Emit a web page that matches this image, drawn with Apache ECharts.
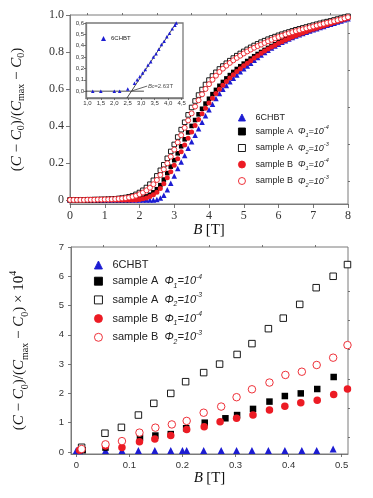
<!DOCTYPE html>
<html><head><meta charset="utf-8">
<script src="https://cdn.jsdelivr.net/npm/echarts@6/dist/echarts.min.js"></script>
<style>html,body{margin:0;padding:0;background:#fff}#c{width:373px;height:498px}</style>
</head><body><div id="c"></div>
<script>
// ---------- Top panel: normalised capacitance vs field (0..8 T) ----------
const fieldTop = [0.0,0.1,0.2,0.3,0.4,0.5,0.6,0.7,0.8,0.9,1.0,1.1,1.2,1.3,1.4,1.5,1.6,1.7,1.8,1.9,2.0,2.1,2.2,2.3,2.4,2.5,2.6,2.7,2.8,2.9,3.0,3.1,3.2,3.3,3.4,3.5,3.6,3.7,3.8,3.9,4.0,4.1,4.2,4.3,4.4,4.5,4.6,4.7,4.8,4.9,5.0,5.1,5.2,5.3,5.4,5.5,5.6,5.7,5.8,5.9,6.0,6.1,6.2,6.3,6.4,6.5,6.6,6.7,6.8,6.9,7.0,7.1,7.2,7.3,7.4,7.5,7.6,7.7,7.8,7.9,8.0];
const topCHBT = [0,0,0,0,0,0,0,0,0,0,0,0,0,0,0,0,0,0,0,0,0,0,0,0,0,0.003,0.01,0.025,0.055,0.09,0.13,0.17,0.205,0.24,0.28,0.315,0.35,0.385,0.42,0.455,0.487,0.518,0.548,0.575,0.598,0.619,0.639,0.658,0.676,0.693,0.709,0.724,0.739,0.755,0.77,0.784,0.797,0.809,0.821,0.832,0.842,0.852,0.861,0.87,0.878,0.886,0.893,0.9,0.907,0.914,0.92,0.926,0.932,0.938,0.944,0.95,0.956,0.962,0.968,0.974,0.98];
const topA1 = [0,0,0,0,0,0,0,0,0,0,0,0,0,0,0,0,0,0,0.002,0.004,0.007,0.012,0.019,0.028,0.041,0.058,0.08,0.11,0.145,0.18,0.215,0.252,0.29,0.328,0.365,0.4,0.432,0.463,0.493,0.521,0.547,0.572,0.595,0.617,0.638,0.657,0.675,0.692,0.708,0.723,0.737,0.751,0.764,0.777,0.789,0.8,0.811,0.822,0.832,0.842,0.852,0.861,0.87,0.878,0.886,0.893,0.9,0.907,0.914,0.92,0.926,0.932,0.938,0.944,0.95,0.956,0.962,0.968,0.974,0.98,0.986];
const topA2 = [0,0,0,0,0,0.001,0.001,0.002,0.002,0.003,0.003,0.004,0.005,0.006,0.008,0.01,0.013,0.017,0.022,0.03,0.04,0.052,0.067,0.085,0.106,0.13,0.16,0.19,0.225,0.262,0.3,0.34,0.38,0.42,0.46,0.5,0.535,0.567,0.597,0.624,0.648,0.67,0.69,0.708,0.724,0.739,0.753,0.767,0.78,0.792,0.803,0.814,0.825,0.835,0.844,0.853,0.861,0.869,0.876,0.883,0.89,0.896,0.902,0.908,0.914,0.92,0.925,0.93,0.935,0.94,0.945,0.95,0.955,0.96,0.964,0.968,0.973,0.978,0.983,0.988,0.993];
const topB1 = [0,0,0,0,0,0,0,0,0,0,0,0,0,0,0,0,0,0,0,0,0.003,0.006,0.011,0.018,0.028,0.042,0.062,0.088,0.12,0.152,0.187,0.223,0.26,0.297,0.333,0.368,0.402,0.435,0.466,0.496,0.524,0.55,0.575,0.598,0.62,0.64,0.659,0.677,0.694,0.71,0.725,0.739,0.753,0.767,0.78,0.793,0.805,0.816,0.827,0.837,0.847,0.856,0.865,0.873,0.881,0.889,0.896,0.903,0.91,0.917,0.923,0.929,0.935,0.941,0.947,0.953,0.959,0.965,0.971,0.977,0.983];
const topB2 = [0,0,0,0,0,0.001,0.001,0.001,0.002,0.002,0.003,0.003,0.004,0.005,0.006,0.008,0.01,0.013,0.017,0.023,0.031,0.04,0.052,0.066,0.085,0.108,0.135,0.165,0.198,0.234,0.272,0.311,0.35,0.39,0.43,0.468,0.505,0.539,0.571,0.6,0.626,0.65,0.672,0.692,0.71,0.726,0.741,0.755,0.768,0.78,0.792,0.803,0.813,0.823,0.832,0.84,0.849,0.858,0.866,0.874,0.881,0.888,0.895,0.901,0.907,0.913,0.918,0.923,0.928,0.933,0.938,0.943,0.948,0.953,0.958,0.962,0.967,0.972,0.977,0.982,0.988];

// ---------- Inset: 6CHBT near the threshold ----------
const insetField = [1.2,1.5,2.0,2.2,2.5,2.75,2.85,2.95,3.05,3.15,3.25,3.35,3.45,3.55,3.65,3.75,3.85,3.95,4.05,4.15,4.25,4.3];
const insetCHBT  = [0,0,0,0,0.02,0.07,0.1,0.13,0.16,0.19,0.23,0.26,0.3,0.33,0.37,0.41,0.44,0.48,0.51,0.55,0.58,0.6];
const fitLine  = [[2.47,-0.06],[4.3,0.6]];
const baseLine = [[0.95,0],[3.1,0]];
const Bc = 2.63;

// ---------- Bottom panel: low field (x 1e4) ----------
const botCHBTx = [0.0,0.006,0.055,0.086,0.117,0.148,0.178,0.2,0.208,0.24,0.273,0.302,0.331,0.362,0.393,0.425,0.453,0.484];
const botCHBTy = [0.05,0.04,0.05,0.05,0.05,0.05,0.05,0.05,0.05,0.05,0.05,0.05,0.05,0.05,0.05,0.05,0.05,0.1];
const botA1x = [0.012,0.055,0.12,0.149,0.178,0.207,0.242,0.281,0.303,0.333,0.364,0.393,0.423,0.454,0.485];
const botA1y = [0.06,0.15,0.49,0.56,0.61,0.81,1.0,1.15,1.26,1.47,1.72,1.91,2.0,2.15,2.56];
const botA2x = [0.01,0.054,0.085,0.117,0.146,0.178,0.206,0.24,0.27,0.303,0.331,0.362,0.39,0.421,0.452,0.484,0.511];
const botA2y = [0.16,0.64,0.84,1.26,1.66,2.0,2.4,2.71,3.0,3.33,3.7,4.21,4.57,5.04,5.61,6.0,6.4];
const botB1x = [0.006,0.055,0.086,0.119,0.148,0.178,0.208,0.241,0.271,0.302,0.333,0.364,0.393,0.423,0.454,0.485,0.511];
const botB1y = [0.06,0.2,0.15,0.35,0.44,0.56,0.77,0.86,1.03,1.15,1.26,1.43,1.56,1.68,1.77,1.96,2.15];
const botB2x = [0.01,0.055,0.086,0.119,0.149,0.18,0.208,0.24,0.273,0.302,0.331,0.364,0.394,0.425,0.453,0.484,0.511];
const botB2y = [0.1,0.26,0.37,0.66,0.83,0.94,1.06,1.34,1.55,1.87,2.14,2.37,2.63,2.74,2.97,3.22,3.65];

// tick labels
const topXTicks = [0,1,2,3,4,5,6,7,8];
const topYTicks = [0,0.2,0.4,0.6,0.8,1.0];
const insetXTicks = [1.0,1.5,2.0,2.5,3.0,3.5,4.0,4.5];
const insetYTicks = [0,0.1,0.2,0.3,0.4,0.5,0.6];
const botXTicks = [0,0.1,0.2,0.3,0.4,0.5];
const botYTicks = [0,1,2,3,4,5,6,7];

const BLUE = '#1c1cd2', RED = '#ec1b24', BLACK = '#000';
const SERIF = '"Liberation Serif","DejaVu Serif",serif';
const SANS = '"Liberation Sans","DejaVu Sans",sans-serif';
const FRAME = '#7a7a7a';

const legendText = {
  CHBT: '{r|6CHBT}',
  A1: '{r|sample A  }{i|Φ}{sb|1}{i|=10}{sp|-4}',
  A2: '{r|sample A  }{i|Φ}{sb|2}{i|=10}{sp|-3}',
  B1: '{r|sample B  }{i|Φ}{sb|1}{i|=10}{sp|-4}',
  B2: '{r|sample B  }{i|Φ}{sb|2}{i|=10}{sp|-3}'
};
function legRich(fs){
  return {
    r:{fontFamily:SANS,fontSize:fs,color:'#222',lineHeight:fs+3},
    i:{fontFamily:SANS,fontSize:fs,fontStyle:'italic',color:'#222',lineHeight:fs+3},
    sb:{fontFamily:SANS,fontSize:fs*0.62,fontStyle:'italic',color:'#222',verticalAlign:'bottom',lineHeight:fs+1},
    sp:{fontFamily:SANS,fontSize:fs*0.62,fontStyle:'italic',color:'#222',verticalAlign:'top',lineHeight:fs+5}
  };
}
const nameRich = {
  r:{fontFamily:SERIF,fontSize:15,color:'#111',lineHeight:18},
  i:{fontFamily:SERIF,fontSize:15,fontStyle:'italic',color:'#111',lineHeight:18},
  s:{fontFamily:SERIF,fontSize:10,color:'#111',verticalAlign:'bottom',lineHeight:14},
  p:{fontFamily:SERIF,fontSize:10,color:'#111',verticalAlign:'top',lineHeight:22}
};
const yName = '{r|(}{i|C}{r| − }{i|C}{s|0}{r|)/(}{i|C}{s|max}{r| − }{i|C}{s|0}{r|)}';

function pairs(xs, ys){ return xs.map((x,i)=>[x, ys[i]]); }
function sc(name, data, xi, yi, sym, size, fill, stroke, z){
  return {type:'scatter', name, xAxisIndex:xi, yAxisIndex:yi, data, symbol:sym, symbolSize:size,
    itemStyle:{color:fill, borderColor:stroke||fill, borderWidth: stroke? 0.9:0, opacity:1}, z, silent:true, animation:false};
}
function valAxis(grid, min, max, ticks, opts){
  const o = Object.assign({fs:12, font:SERIF, margin:5, len:4, fmt:(v)=>String(v), pos:null}, opts||{});
  const ax = {type:'value', gridIndex:grid, min, max,
    axisLine:{show:true, onZero:false, lineStyle:{color:FRAME, width:o.lw||1}},
    axisTick:{show:true, inside:false, length:o.len, customValues:ticks, lineStyle:{color:'#555', width:0.8}},
    axisLabel:{show:true, customValues:ticks, fontFamily:o.font, fontSize:o.fs, color:'#333', margin:o.margin, formatter:o.fmt},
    splitLine:{show:false}};
  if (o.pos) ax.position = o.pos;
  return ax;
}
function minorAxis(grid, min, max, ticks, len){
  return {type:'value', gridIndex:grid, min, max,
    axisLine:{show:false, onZero:false}, axisLabel:{show:false}, splitLine:{show:false},
    axisTick:{show:true, length:len, customValues:ticks, lineStyle:{color:'#555', width:0.8}}};
}

const xAxes = [
  Object.assign(valAxis(0, 0, 8, topXTicks, {fs:12, margin:6}), {
    name:'{i|B} {r|[T]}', nameLocation:'middle', nameGap:15, nameTextStyle:{rich:nameRich}}),
  valAxis(1, 0.95, 4.55, insetXTicks, {fs:6, font:SANS, margin:2, len:2, lw:1.3, fmt:(v)=>v.toFixed(1).replace('.',',')}),
  Object.assign(valAxis(2, -0.01, 0.512, botXTicks, {fs:9.5, font:SANS, margin:6, len:3, fmt:(v)=>v===0?'0':v.toFixed(1)}), {
    name:'{i|B} {r|[T]}', nameLocation:'middle', nameGap:15, nameTextStyle:{rich:nameRich}}),
  minorAxis(0, 0, 8, [0.5,1.5,2.5,3.5,4.5,5.5,6.5,7.5], 2),
  minorAxis(2, -0.01, 0.512, [0.05,0.15,0.25,0.35,0.45], 2)
];
const yAxes = [
  Object.assign(valAxis(0, -0.022, 1.0, topYTicks, {fs:12, margin:6, fmt:(v)=>v===0?'0':v.toFixed(1)}), {
    name:yName, nameLocation:'middle', nameRotate:90, nameGap:44, nameTextStyle:{rich:nameRich}}),
  valAxis(1, -0.06, 0.6, insetYTicks, {fs:6, font:SANS, margin:2, len:2, lw:1.3, fmt:(v)=>v.toFixed(1).replace('.',',')}),
  Object.assign(valAxis(2, -0.07, 7.0, botYTicks, {fs:9.5, font:SANS, margin:7, len:3}), {
    name: yName + '{r| × 10}{p|4}', nameLocation:'middle', nameRotate:90, nameGap:41, nameTextStyle:{rich:nameRich}}),
  minorAxis(0, -0.022, 1.0, [0.1,0.3,0.5,0.7,0.9], 2),
  minorAxis(2, -0.07, 7.0, [0.5,1.5,2.5,3.5,4.5,5.5,6.5], 2)
];

const series = [
  // top
  sc('CHBT', pairs(fieldTop, topCHBT), 0, 0, 'triangle', 5.5, BLUE, null, 2),
  sc('A1', pairs(fieldTop, topA1), 0, 0, 'rect', 4.6, BLACK, null, 3),
  sc('A2', pairs(fieldTop, topA2), 0, 0, 'rect', 4.6, '#fff', BLACK, 4),
  sc('B1', pairs(fieldTop, topB1), 0, 0, 'circle', 5, RED, null, 5),
  sc('B2', pairs(fieldTop, topB2), 0, 0, 'circle', 5, '#fff', RED, 6),
  // inset
  {type:'line', xAxisIndex:1, yAxisIndex:1, data:baseLine, symbol:'none', lineStyle:{color:'#222', width:0.8}, silent:true, z:5,
    markLine:{silent:true, symbol:['none','arrow'], symbolSize:[0,4], label:{show:false}, animation:false,
      lineStyle:{color:'#222', width:0.7, type:'solid'},
      data:[[{coord:[3.22,0.045]},{coord:[Bc+0.03,0.003]}]]}},
  {type:'line', xAxisIndex:1, yAxisIndex:1, data:fitLine, symbol:'none', lineStyle:{color:'#222', width:0.8}, silent:true, z:5},
  sc('CHBT', pairs(insetField, insetCHBT), 1, 1, 'triangle', 3.5, BLUE, null, 6),
  {type:'scatter', xAxisIndex:1, yAxisIndex:1, data:[[3.25, 0.045]], symbolSize:0, silent:true, z:7,
    label:{show:true, position:'right', distance:0, formatter:'{i|B}{s|c}{r|=2.63T}',
      rich:{i:{fontFamily:SANS,fontSize:6,fontStyle:'italic',color:'#222'}, s:{fontFamily:SANS,fontSize:4.5,color:'#222',verticalAlign:'bottom'}, r:{fontFamily:SANS,fontSize:6,color:'#222'}}}},
  // bottom
  sc('CHBT', pairs(botCHBTx, botCHBTy), 2, 2, 'triangle', 7, BLUE, null, 2),
  sc('A1', pairs(botA1x, botA1y), 2, 2, 'rect', 6.5, BLACK, null, 3),
  sc('A2', pairs(botA2x, botA2y), 2, 2, 'rect', 6.5, '#fff', BLACK, 4),
  sc('B1', pairs(botB1x, botB1y), 2, 2, 'circle', 7.5, RED, null, 5),
  sc('B2', pairs(botB2x, botB2y), 2, 2, 'circle', 7.5, '#fff', RED, 6)
];

const option = {
  animation:false,
  backgroundColor:'#fff',
  grid:[
    {left:70, top:15, width:278, height:189, show:true, borderColor:FRAME, borderWidth:1, backgroundColor:'#fff'},
    {left:86, top:23, width:97, height:75, show:true, borderColor:FRAME, borderWidth:1.3, backgroundColor:'#fff'},
    {left:67, top:247, width:281, height:207, show:true, borderColor:FRAME, borderWidth:1, backgroundColor:'#fff'}
  ],
  xAxis:xAxes, yAxis:yAxes,
  legend:[
    {data:['CHBT','A1','A2','B1','B2'], orient:'vertical', left:238, top:113, padding:0, itemWidth:7, itemHeight:7, itemGap:2.5,
      selectedMode:false, formatter:(n)=>legendText[n], itemStyle:{borderWidth:0.9},
      textStyle:{padding:[0,0,0,5], rich:legRich(9)}},
    {data:['CHBT','A1','A2','B1','B2'], orient:'vertical', left:94, top:259.5, padding:0, itemWidth:8, itemHeight:8, itemGap:2.7,
      selectedMode:false, formatter:(n)=>legendText[n], itemStyle:{borderWidth:0.9},
      textStyle:{padding:[0,0,0,5], rich:legRich(11)}},
    {data:['CHBT'], orient:'vertical', left:101, top:35.5, padding:0, itemWidth:5, itemHeight:5, selectedMode:false,
      formatter:(n)=>legendText[n], textStyle:{rich:{r:{fontFamily:SANS,fontSize:6,color:'#222'}}}}
  ],
  series
};
const chart = echarts.init(document.getElementById('c'), null, {renderer:'canvas'});
chart.setOption(option);
</script></body></html>
